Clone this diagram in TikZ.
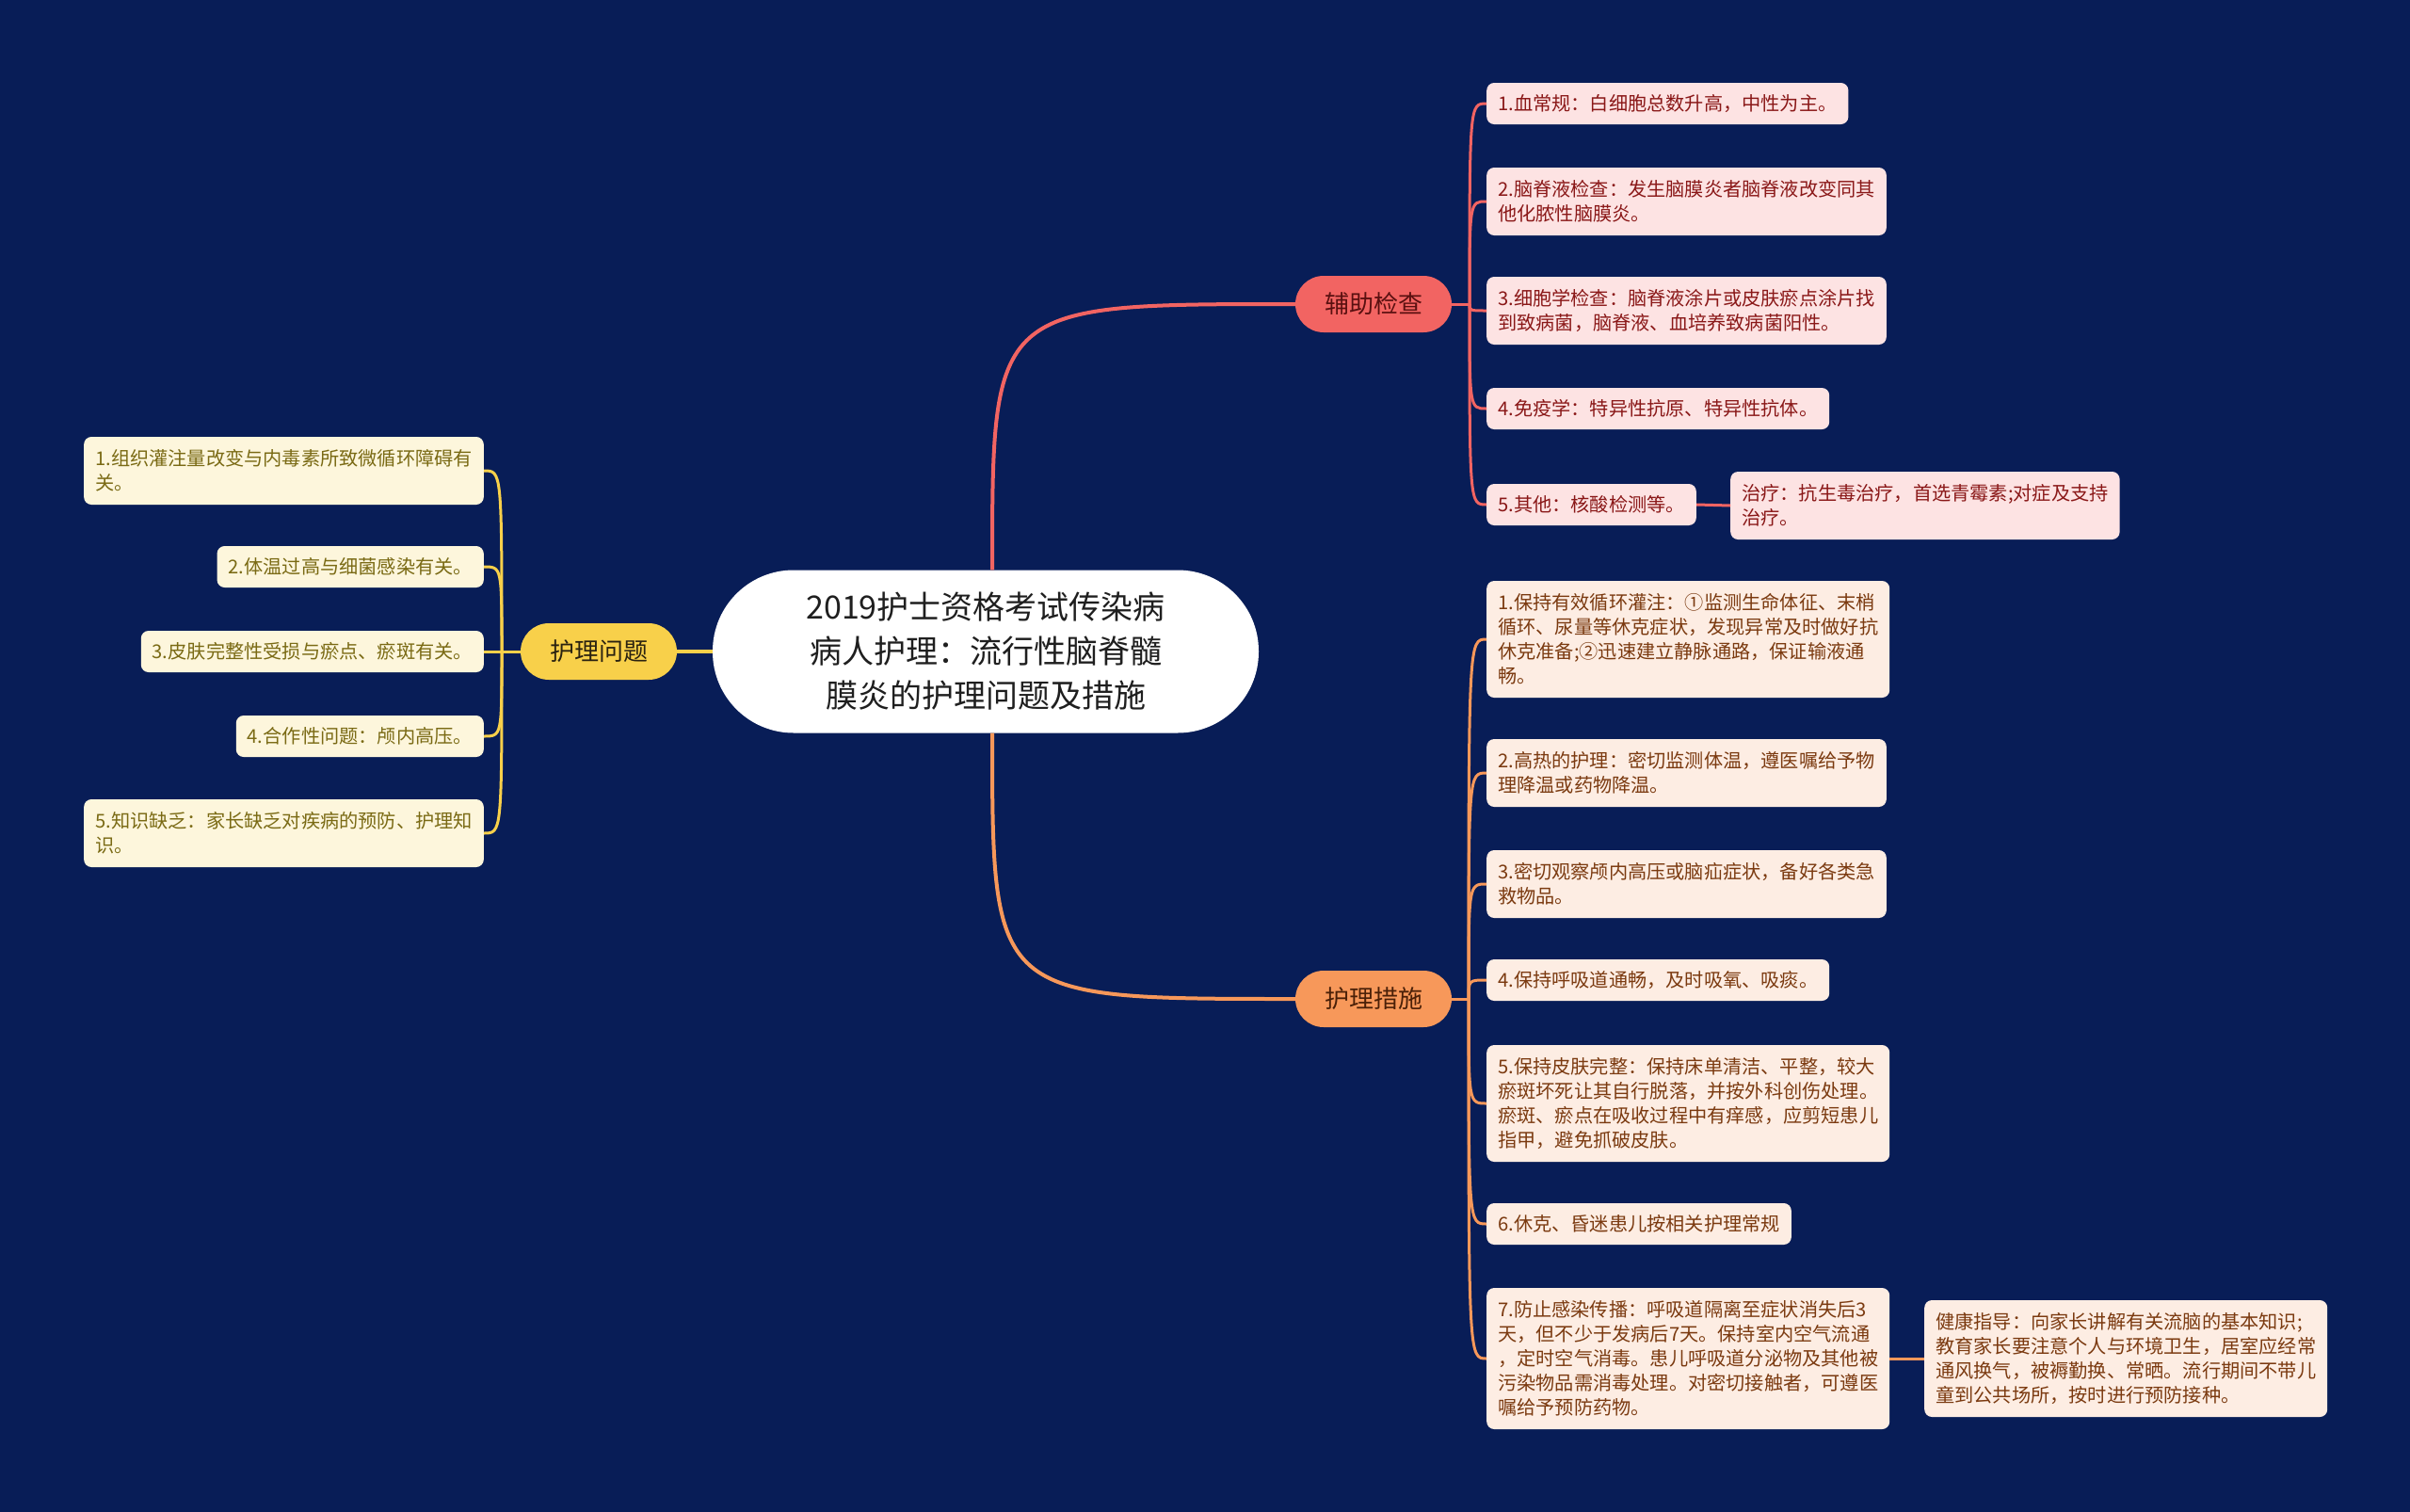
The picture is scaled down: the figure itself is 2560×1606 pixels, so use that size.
\documentclass[tikz,border=0pt]{standalone}
\usepackage{fontspec}
\setmainfont{Noto Sans CJK SC}
\definecolor{bg}{HTML}{081D57}
\definecolor{rmainc}{HTML}{F26462}
\definecolor{omainc}{HTML}{F7985A}
\definecolor{ymainc}{HTML}{F8D04A}
\definecolor{rfill}{HTML}{FDE3E3}
\definecolor{ofill}{HTML}{FDEDE3}
\definecolor{yfill}{HTML}{FDF6DC}
\definecolor{rtext}{HTML}{8A1818}
\definecolor{otext}{HTML}{7B3A10}
\definecolor{ytext}{HTML}{7A6A14}
\definecolor{rbtext}{HTML}{5A1010}
\definecolor{obtext}{HTML}{4A2008}
\definecolor{ybtext}{HTML}{2A2210}
\tikzset{
  leafbox/.style={rounded corners=8pt, inner xsep=12pt, inner ysep=0pt, align=left,
    font=\fontsize{20.2}{26}\selectfont},
  rleaf/.style={leafbox, fill=rfill, text=rtext, anchor=west},
  oleaf/.style={leafbox, fill=ofill, text=otext, anchor=west},
  yleaf/.style={leafbox, fill=yfill, text=ytext, anchor=east},
  hone/.style={minimum height=44pt},
  htwo/.style={minimum height=72pt},
  hfour/.style={minimum height=124pt},
  hfive/.style={minimum height=150pt},
  branchbox/.style={rounded corners=30pt, minimum width=166pt, minimum height=60pt,
    inner sep=0pt, font=\fontsize{26}{30}\selectfont},
  rline/.style={draw=rmainc, line width=3pt},
  oline/.style={draw=omainc, line width=3pt},
  yline/.style={draw=ymainc, line width=3pt},
  mainline/.style={line width=4pt},
}
\begin{document}
\begin{tikzpicture}[x=1pt,y=-1pt]
\useasboundingbox (0,0) rectangle (2560,1606);
\fill[bg] (0,0) rectangle (2560,1606);

% central node
\node[fill=white, rounded corners=86pt, minimum width=580pt, minimum height=173pt,
  inner sep=0pt, align=center, text=black!88, font=\fontsize{34}{47}\selectfont]
  (c) at (1047,692) {2019护士资格考试传染病\\病人护理：流行性脑脊髓\\膜炎的护理问题及措施};

% branch nodes
\node[branchbox, fill=rmainc, text=rbtext] (b1) at (1459,323) {辅助检查};
\node[branchbox, fill=omainc, text=obtext] (b2) at (1459,1061) {护理措施};
\node[branchbox, fill=ymainc, text=ybtext] (b3) at (636,692) {护理问题};

% red leaves
\node[rleaf, hone] (r1) at (1579,110) {1.血常规：白细胞总数升高，中性为主。};
\node[rleaf, htwo] (r2) at (1579,214) {2.脑脊液检查：发生脑膜炎者脑脊液改变同其\\他化脓性脑膜炎。};
\node[rleaf, htwo] (r3) at (1579,330) {3.细胞学检查：脑脊液涂片或皮肤瘀点涂片找\\到致病菌，脑脊液、血培养致病菌阳性。};
\node[rleaf, hone] (r4) at (1579,434) {4.免疫学：特异性抗原、特异性抗体。};
\node[rleaf, hone] (r5) at (1579,536) {5.其他：核酸检测等。};
\node[rleaf, htwo] (r6) at (1838,537) {治疗：抗生毒治疗，首选青霉素;对症及支持\\治疗。};

% orange leaves
\node[oleaf, hfour] (o1) at (1579,679) {1.保持有效循环灌注：①监测生命体征、末梢\\循环、尿量等休克症状，发现异常及时做好抗\\休克准备;②迅速建立静脉通路，保证输液通\\畅。};
\node[oleaf, htwo] (o2) at (1579,821) {2.高热的护理：密切监测体温，遵医嘱给予物\\理降温或药物降温。};
\node[oleaf, htwo] (o3) at (1579,939) {3.密切观察颅内高压或脑疝症状，备好各类急\\救物品。};
\node[oleaf, hone] (o4) at (1579,1041) {4.保持呼吸道通畅，及时吸氧、吸痰。};
\node[oleaf, hfour] (o5) at (1579,1172) {5.保持皮肤完整：保持床单清洁、平整，较大\\瘀斑坏死让其自行脱落，并按外科创伤处理。\\瘀斑、瘀点在吸收过程中有痒感，应剪短患儿\\指甲，避免抓破皮肤。};
\node[oleaf, hone] (o6) at (1579,1300) {6.休克、昏迷患儿按相关护理常规};
\node[oleaf, hfive] (o7) at (1579,1443) {7.防止感染传播：呼吸道隔离至症状消失后3\\天，但不少于发病后7天。保持室内空气流通\\，定时空气消毒。患儿呼吸道分泌物及其他被\\污染物品需消毒处理。对密切接触者，可遵医\\嘱给予预防药物。};
\node[oleaf, hfour] (o8) at (2044,1443) {健康指导：向家长讲解有关流脑的基本知识;\\教育家长要注意个人与环境卫生，居室应经常\\通风换气，被褥勤换、常晒。流行期间不带儿\\童到公共场所，按时进行预防接种。};

% yellow leaves
\node[yleaf, htwo] (y1) at (514,500) {1.组织灌注量改变与内毒素所致微循环障碍有\\关。};
\node[yleaf, hone] (y2) at (514,602) {2.体温过高与细菌感染有关。};
\node[yleaf, hone] (y3) at (514,692) {3.皮肤完整性受损与瘀点、瘀斑有关。};
\node[yleaf, hone] (y4) at (514,782) {4.合作性问题：颅内高压。};
\node[yleaf, htwo] (y5) at (514,885) {5.知识缺乏：家长缺乏对疾病的预防、护理知\\识。};

% main connectors
\coordinate (ct) at ([xshift=7pt]c.north);
\coordinate (cb) at ([xshift=7pt]c.south);
\draw[draw=rmainc, mainline] (ct) .. controls (ct |- b1.west) .. (b1.west);
\draw[draw=omainc, mainline] (cb) .. controls (cb |- b2.west) .. (b2.west);
\draw[draw=ymainc, mainline] (c.west) -- (b3.east);

% junctions
\coordinate (rj) at (1561,323);
\coordinate (oj) at (1560,1061);
\coordinate (yj) at (533,692);
\draw[rline] (b1.east) -- (rj);
\draw[oline] (b2.east) -- (oj);
\draw[yline] (b3.west) -- (yj);

\foreach \n in {r1,r2,r3,r4,r5}
  \draw[rline] (rj) .. controls (rj |- \n.west) .. (\n.west);
\foreach \n in {o1,o2,o3,o4,o5,o6,o7}
  \draw[oline] (oj) .. controls (oj |- \n.west) .. (\n.west);
\foreach \n in {y1,y2,y3,y4,y5}
  \draw[yline] (yj) .. controls (yj |- \n.east) .. (\n.east);

\draw[rline] (r5.east) -- (r6.west);
\draw[oline] (o7.east) -- (o8.west);
\end{tikzpicture}
\end{document}
